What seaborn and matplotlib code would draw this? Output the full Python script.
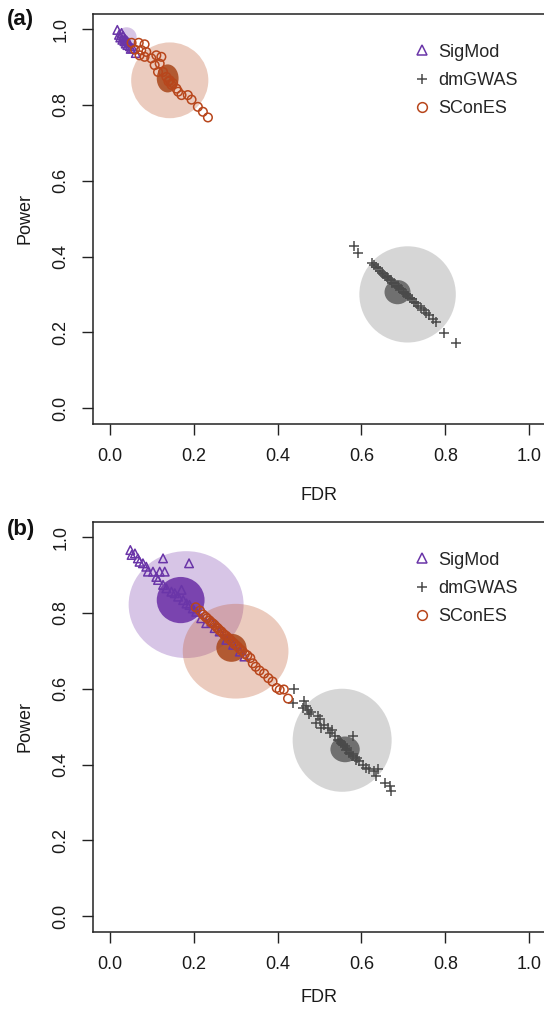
import matplotlib
matplotlib.use("Agg")
import matplotlib.pyplot as plt
from matplotlib.patches import Ellipse
from matplotlib.lines import Line2D
import pandas as pd
import seaborn as sns

# ---------------------------------------------------------------- data
methods = ["SigMod", "dmGWAS", "SConES"]

# panel (a): per-run FDR / power
sigmod_a_fdr = [0.018, 0.022, 0.025, 0.028, 0.030, 0.032, 0.035, 0.036, 0.038,
                0.040, 0.042, 0.045, 0.048, 0.050, 0.055, 0.062]
sigmod_a_pow = [0.998, 0.985, 0.978, 0.990, 0.972, 0.982, 0.968, 0.975, 0.962,
                0.970, 0.958, 0.965, 0.955, 0.948, 0.950, 0.937]

dmgwas_a_fdr = [0.582, 0.592, 0.625, 0.630, 0.635, 0.640, 0.645, 0.648, 0.652,
                0.655, 0.660, 0.663, 0.667, 0.670, 0.674, 0.678, 0.682, 0.686,
                0.690, 0.694, 0.698, 0.702, 0.706, 0.710, 0.715, 0.720, 0.725,
                0.730, 0.736, 0.742, 0.748, 0.755, 0.762, 0.770, 0.778, 0.798,
                0.826]
dmgwas_a_pow = [0.427, 0.410, 0.383, 0.378, 0.372, 0.369, 0.362, 0.357, 0.354,
                0.349, 0.346, 0.343, 0.338, 0.337, 0.331, 0.330, 0.323, 0.321,
                0.316, 0.313, 0.307, 0.305, 0.300, 0.297, 0.290, 0.287, 0.281,
                0.277, 0.270, 0.265, 0.258, 0.251, 0.245, 0.236, 0.226, 0.198,
                0.171]

scones_a_fdr = [0.052, 0.069, 0.083, 0.060, 0.075, 0.087, 0.071, 0.083, 0.099,
                0.111, 0.123, 0.107, 0.119, 0.115, 0.127, 0.135, 0.143, 0.151,
                0.159, 0.163, 0.171, 0.186, 0.195, 0.210, 0.222, 0.234, 0.140,
                0.147]
scones_a_pow = [0.964, 0.964, 0.960, 0.946, 0.945, 0.940, 0.931, 0.927, 0.923,
                0.931, 0.927, 0.905, 0.909, 0.887, 0.887, 0.874, 0.865, 0.857,
                0.843, 0.835, 0.826, 0.826, 0.814, 0.795, 0.782, 0.767, 0.862,
                0.853]

# panel (b)
sigmod_b_fdr = [0.049, 0.052, 0.060, 0.067, 0.071, 0.079, 0.087, 0.091, 0.103,
                0.111, 0.115, 0.127, 0.189, 0.131, 0.119, 0.127, 0.135, 0.147,
                0.155, 0.163, 0.171, 0.175, 0.183, 0.190, 0.198, 0.206, 0.218,
                0.230, 0.242, 0.250, 0.262, 0.278, 0.294, 0.310, 0.321]
sigmod_b_pow = [0.966, 0.953, 0.957, 0.944, 0.935, 0.931, 0.922, 0.909, 0.909,
                0.895, 0.887, 0.944, 0.931, 0.909, 0.909, 0.874, 0.865, 0.856,
                0.852, 0.843, 0.861, 0.834, 0.825, 0.821, 0.812, 0.803, 0.786,
                0.773, 0.777, 0.760, 0.751, 0.729, 0.716, 0.698, 0.685]

dmgwas_b_fdr = [0.440, 0.436, 0.464, 0.460, 0.468, 0.472, 0.476, 0.480, 0.496,
                0.492, 0.500, 0.504, 0.510, 0.520, 0.524, 0.530, 0.536, 0.544,
                0.548, 0.552, 0.556, 0.560, 0.563, 0.566, 0.571, 0.575, 0.579,
                0.579, 0.587, 0.590, 0.595, 0.603, 0.611, 0.619, 0.631, 0.635,
                0.639, 0.655, 0.667, 0.671]
dmgwas_b_pow = [0.599, 0.562, 0.567, 0.549, 0.555, 0.545, 0.532, 0.538, 0.527,
                0.510, 0.520, 0.497, 0.505, 0.497, 0.483, 0.490, 0.474, 0.466,
                0.462, 0.457, 0.452, 0.448, 0.439, 0.443, 0.431, 0.428, 0.474,
                0.422, 0.413, 0.418, 0.409, 0.400, 0.391, 0.387, 0.382, 0.369,
                0.387, 0.352, 0.343, 0.330]

scones_b_fdr = [0.205, 0.215, 0.222, 0.228, 0.232, 0.238, 0.242, 0.246, 0.250,
                0.255, 0.258, 0.262, 0.266, 0.270, 0.274, 0.278, 0.282, 0.286,
                0.290, 0.295, 0.300, 0.305, 0.310, 0.316, 0.322, 0.328, 0.335,
                0.341, 0.348, 0.357, 0.368, 0.378, 0.388, 0.398, 0.405, 0.415,
                0.425]
scones_b_pow = [0.815, 0.806, 0.796, 0.790, 0.786, 0.780, 0.775, 0.772, 0.768,
                0.762, 0.759, 0.754, 0.751, 0.746, 0.742, 0.739, 0.734, 0.731,
                0.726, 0.721, 0.716, 0.711, 0.705, 0.700, 0.692, 0.688, 0.681,
                0.667, 0.658, 0.648, 0.640, 0.628, 0.619, 0.602, 0.597, 0.598,
                0.574]

# density regions (centre and half-extent in FDR / power units), order = methods
outer_a_fdr = [0.040, 0.710, 0.143]
outer_a_pow = [0.979, 0.300, 0.865]
outer_a_wfdr = [0.024, 0.115, 0.092]
outer_a_wpow = [0.026, 0.127, 0.100]
inner_a_fdr = [0.036, 0.686, 0.138]
inner_a_pow = [0.975, 0.306, 0.870]
inner_a_wfdr = [0.008, 0.031, 0.026]
inner_a_wpow = [0.009, 0.032, 0.037]

outer_b_fdr = [0.182, 0.554, 0.300]
outer_b_pow = [0.822, 0.464, 0.699]
outer_b_wfdr = [0.137, 0.118, 0.126]
outer_b_wpow = [0.141, 0.136, 0.125]
inner_b_fdr = [0.169, 0.561, 0.290]
inner_b_pow = [0.834, 0.440, 0.708]
inner_b_wfdr = [0.057, 0.035, 0.036]
inner_b_wpow = [0.061, 0.034, 0.037]

tick_vals = [0.0, 0.2, 0.4, 0.6, 0.8, 1.0]
tick_labels = ["0.0", "0.2", "0.4", "0.6", "0.8", "1.0"]

# ---------------------------------------------------------------- style
sns.set_theme(style="ticks")
plt.rcParams["font.family"] = ["Liberation Sans", "DejaVu Sans"]

point_color = {"SigMod": "#6a35a8", "dmGWAS": "#4a4a4a", "SConES": "#b8461c"}
light_color = {"SigMod": "#7b3faf", "dmGWAS": "#7a7a7a", "SConES": "#c0552a"}
core_color = {"SigMod": "#6a2ea6", "dmGWAS": "#5e5e5e", "SConES": "#a8461a"}
marker_of = {"SigMod": "^", "dmGWAS": "+", "SConES": "o"}

panels = {
    "a": dict(
        pts={"SigMod": (sigmod_a_fdr, sigmod_a_pow),
             "dmGWAS": (dmgwas_a_fdr, dmgwas_a_pow),
             "SConES": (scones_a_fdr, scones_a_pow)},
        outer=(outer_a_fdr, outer_a_pow, outer_a_wfdr, outer_a_wpow),
        inner=(inner_a_fdr, inner_a_pow, inner_a_wfdr, inner_a_wpow)),
    "b": dict(
        pts={"SigMod": (sigmod_b_fdr, sigmod_b_pow),
             "dmGWAS": (dmgwas_b_fdr, dmgwas_b_pow),
             "SConES": (scones_b_fdr, scones_b_pow)},
        outer=(outer_b_fdr, outer_b_pow, outer_b_wfdr, outer_b_wpow),
        inner=(inner_b_fdr, inner_b_pow, inner_b_wfdr, inner_b_wpow)),
}

W, H = 544, 1009
fig = plt.figure(figsize=(W / 100, H / 100), dpi=100)
fig.patch.set_facecolor("white")

# axes boxes in pixels (left, top, right, bottom), x-label offset below axes
axes_boxes = {"a": (93, 14, 546, 424), "b": (93, 522, 546, 932)}
xlabel_off = {"a": 72, "b": 66}
label_y = {"a": 20, "b": 530}

for key, spec in panels.items():
    l, t, r, b = axes_boxes[key]
    ax = fig.add_axes([l / W, 1 - b / H, (r - l) / W, (b - t) / H])

    # shaded density regions
    for level, alpha, cmap in (("outer", 0.30, light_color), ("inner", 0.85, core_color)):
        cx, cy, wx, wy = spec[level]
        for i, m in enumerate(methods):
            ax.add_patch(Ellipse((cx[i], cy[i]), 2 * wx[i], 2 * wy[i],
                                 facecolor=cmap[m], edgecolor="none",
                                 alpha=alpha, zorder=1 if level == "outer" else 2))

    # individual runs
    for m in ["SigMod", "dmGWAS", "SConES"]:
        fx, py = spec["pts"][m]
        df = pd.DataFrame({"FDR": fx, "Power": py})
        if marker_of[m] == "+":
            sns.scatterplot(data=df, x="FDR", y="Power", ax=ax, marker="+",
                            color=point_color[m], s=60, linewidth=1.1, zorder=3)
        else:
            sns.scatterplot(data=df, x="FDR", y="Power", ax=ax, marker=marker_of[m],
                            color=point_color[m], facecolors="none",
                            edgecolor=point_color[m], s=38, linewidth=1.1, zorder=3)

    ax.set_xlim(-0.04, 1.04)
    ax.set_ylim(-0.042, 1.04)
    ax.set_xticks(tick_vals)
    ax.set_xticklabels(tick_labels)
    ax.set_yticks(tick_vals)
    ax.set_yticklabels(tick_labels, rotation=90, va="center")
    ax.tick_params(axis="both", direction="out", length=8, width=1.0,
                   color="#222222", labelsize=13, labelcolor="#1a1a1a", pad=9)
    for sp in ax.spines.values():
        sp.set_linewidth(1.1)
        sp.set_color("#222222")

    ax.set_xlabel("FDR", fontsize=13, color="#1a1a1a")
    ax.set_ylabel("Power", fontsize=13, color="#1a1a1a")
    ax.xaxis.set_label_coords(0.5, -xlabel_off[key] / (b - t))
    ax.xaxis.label.set_va("center")
    ax.yaxis.set_label_coords(-0.150, 0.5)
    ax.yaxis.label.set_va("center")

    handles = [Line2D([], [], linestyle="none", marker=marker_of[m],
                      markerfacecolor="none", markeredgecolor=point_color[m],
                      color=point_color[m], markersize=7, markeredgewidth=1.1)
               for m in methods]
    ax.legend(handles, methods, loc="upper left", bbox_to_anchor=(0.69, 0.945),
              frameon=False, fontsize=13, handlelength=1.0, handletextpad=0.4,
              labelspacing=0.62, borderaxespad=0)

    fig.text(7 / W, 1 - label_y[key] / H, f"({key})", fontsize=16,
             fontweight="bold", va="center", ha="left", color="#111111")

fig.savefig("out.png", dpi=100, facecolor="white")
